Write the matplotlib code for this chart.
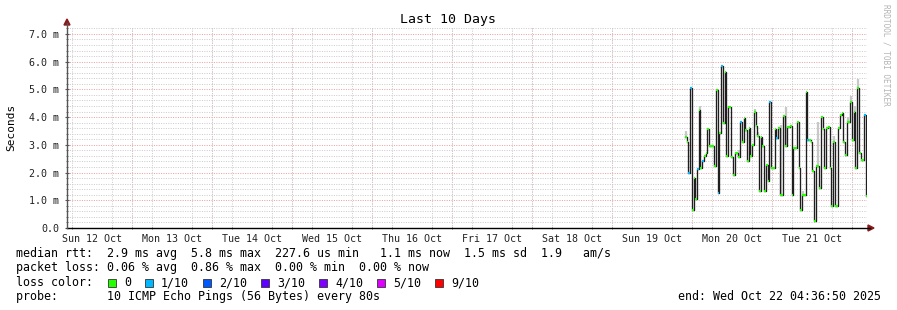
import matplotlib.pyplot as plt
import matplotlib.dates as mdates
from matplotlib.lines import Line2D
from matplotlib.patches import Rectangle, Polygon
from matplotlib.ticker import MultipleLocator, FuncFormatter
from datetime import datetime, timedelta

W, H = 897, 310
MONO = 'DejaVu Sans Mono'

# time range of the graph
t_start = datetime(2025, 10, 12, 4, 36, 50)
t_end = datetime(2025, 10, 22, 4, 36, 50)

# samples (median rtt in ms), one every step_min minutes
first_sample = datetime(2025, 10, 19, 22, 0)
step_min = 31
median_ms = [3.3, 3.1, 2.0, 5.04, 0.66, 1.8, 1.06,
             2.14, 4.26, 2.16, 2.4, 2.6, 2.72, 3.57, 2.94, 2.94, 2.94,
             2.22, 4.98, 1.28, 3.42, 5.84, 3.78, 5.64, 2.58, 4.38, 4.38,
             2.55, 1.92, 2.7, 2.7, 2.55, 3.84, 3.12, 3.96, 3.54, 2.4,
             3.6, 2.58, 3.0, 4.17, 3.69, 3.33, 1.32, 3.3, 2.97, 1.32,
             2.28, 1.68, 4.53, 2.16, 2.16, 3.57, 3.24, 3.6, 1.2, 1.2,
             4.05, 2.97, 3.66, 3.66, 3.69, 1.2, 2.88, 2.88, 3.81, 2.16,
             0.66, 1.2, 1.2, 4.9, 3.18, 3.18, 3.1, 2.04, 0.24, 2.25,
             2.25, 1.44, 4.02, 3.57, 2.16, 3.6, 3.65, 2.16, 0.78, 3.12,
             0.78, 0.78, 3.6, 4.08, 4.14, 3.12, 2.64, 3.84, 3.84, 4.56,
             3.18, 4.17, 2.16, 5.04, 2.7, 2.46, 2.46, 4.08, 1.14]
# samples with 1/10 packet loss
loss_1_idx = [2, 3, 7, 10, 19, 21, 32, 49, 53, 71, 104]
# light smoke above some medians (index -> top, ms)
smoke_top = {0: 3.5, 8: 4.4, 31: 2.8, 40: 4.3, 42: 3.45, 55: 3.7, 58: 4.38,
             68: 1.32, 77: 3.84, 86: 3.33, 94: 4.0, 96: 4.75, 98: 4.4, 100: 5.37}

loss_labels = ['0', '1/10', '2/10', '3/10', '4/10', '5/10', '9/10']
loss_colors = ['#26ff00', '#00b8ff', '#0059ff', '#5e00ff', '#7e00ff', '#dd00ff', '#ff0000']

stats_line = 'median rtt:  2.9 ms avg  5.8 ms max  227.6 us min   1.1 ms now  1.5 ms sd  1.9   am/s'
loss_line = 'packet loss: 0.06 % avg  0.86 % max  0.00 % min  0.00 % now'
probe_line = 'probe:       10 ICMP Echo Pings (56 Bytes) every 80s'
end_line = 'end: Wed Oct 22 04:36:50 2025'


def fx(x):
    return x / W


def fy(y):
    return 1 - y / H


fig = plt.figure(figsize=(W / 100, H / 100), dpi=100)
ax = fig.add_axes([fx(67), fy(228), 800 / W, 201 / H])
ax.set_xlim(t_start, t_end)
ax.set_ylim(0, 7.25)

# grid
dot = (0, (1, 1.4))
ax.yaxis.set_major_locator(MultipleLocator(1.0))
ax.yaxis.set_minor_locator(MultipleLocator(0.2))
ax.yaxis.set_major_formatter(FuncFormatter(lambda v, _: '0.0' if v == 0 else f'{v:.1f} m'))
ax.xaxis.set_major_locator(mdates.HourLocator(byhour=[12]))
ax.xaxis.set_minor_locator(mdates.HourLocator(byhour=[0, 6, 12, 18]))
ax.xaxis.set_major_formatter(mdates.DateFormatter('%a %d %b'))
ax.grid(True, axis='y', which='minor', color='#cccccc', ls=dot, lw=0.72)
ax.grid(True, axis='x', which='minor', color='#cccccc', ls=dot, lw=0.72)
for v in range(1, 8):
    ax.axhline(v, color='#eda0a0', ls=dot, lw=0.72, zorder=1)
day = datetime(2025, 10, 13)
while day < t_end:
    ax.axvline(day, color='#eda0a0', ls=dot, lw=0.72, zorder=1)
    day += timedelta(days=1)

ax.tick_params(axis='both', which='major', length=0, labelsize=7.2, labelcolor='#222222')
ax.tick_params(axis='y', which='major', pad=4, length=3, direction='inout', color='#555555')
ax.tick_params(axis='x', which='major', pad=4)
ax.tick_params(axis='both', which='minor', length=2, direction='inout', color='#555555')
for lab in ax.get_xticklabels() + ax.get_yticklabels():
    lab.set_fontfamily(MONO)
for s in ax.spines.values():
    s.set_visible(False)

# data
n = len(median_ms)
times = [first_sample + timedelta(minutes=step_min * i) for i in range(n + 1)]
tnum = mdates.date2num(times)
for i, top in smoke_top.items():
    mid = (tnum[i] + tnum[i + 1]) / 2
    ax.vlines(mid, median_ms[i], top, color='#c8c8c8', lw=1.6, zorder=2)
ax.plot(tnum, median_ms + [median_ms[-1]], drawstyle='steps-post',
        color='#1e1e1e', lw=0.95, zorder=3)
cols = [loss_colors[1] if i in loss_1_idx else loss_colors[0] for i in range(n)]
ax.hlines(median_ms, tnum[:-1], tnum[1:], colors=cols, lw=1.6, zorder=4)

# axis lines and arrows
fig.add_artist(Line2D([fx(67), fx(870)], [fy(228), fy(228)], color='black', lw=1))
fig.add_artist(Line2D([fx(67), fx(67)], [fy(228), fy(23)], color='#555555', lw=1))
fig.add_artist(Polygon([(fx(64), fy(25)), (fx(70), fy(25)), (fx(67), fy(19))],
                       closed=True, color='#8b1a1a'))
fig.add_artist(Polygon([(fx(868), fy(225)), (fx(868), fy(231)), (fx(874), fy(228))],
                       closed=True, color='#8b1a1a'))

# texts
fig.text(fx(448), fy(19), 'Last 10 Days', ha='center', va='center', family=MONO, size=9.5)
fig.text(fx(11), fy(127), 'Seconds', ha='center', va='center', rotation=90, family=MONO, size=8)
fig.text(fx(886), fy(4), 'RRDTOOL / TOBI OETIKER', ha='center', va='top', rotation=270,
         family=MONO, size=5.6, color='#b4b4b4')

fs = 8.4
cw = 7.0
fig.text(fx(16), fy(254), stats_line, va='center', family=MONO, size=fs)
fig.text(fx(16), fy(268), loss_line, va='center', family=MONO, size=fs)
fig.text(fx(16), fy(282.5), 'loss color:', va='center', family=MONO, size=fs)
x = 108
for lab, col in zip(loss_labels, loss_colors):
    fig.add_artist(Rectangle((fx(x), fy(287)), 8 / W, 8 / H, facecolor=col,
                             edgecolor='#333333', lw=0.6, transform=fig.transFigure))
    fig.text(fx(x + 16), fy(282.5), lab, va='center', family=MONO, size=fs)
    x = x + 16 + len(lab) * cw + 14
fig.text(fx(16), fy(296.5), probe_line, va='center', family=MONO, size=fs)
fig.text(fx(881), fy(296.5), end_line, ha='right', va='center', family=MONO, size=fs)

fig.savefig('out.png', dpi=100, facecolor='white')
